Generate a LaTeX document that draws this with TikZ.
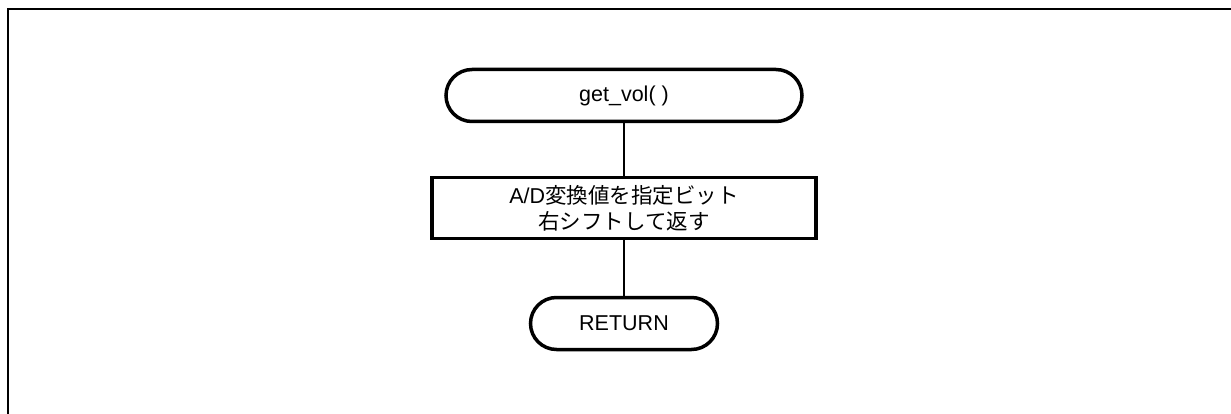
\documentclass[tikz,border=0pt]{standalone}
\usepackage{fontspec}
\setmainfont{Liberation Sans}
\newfontfamily\cjk{Noto Sans CJK JP}
\begin{document}
\begin{tikzpicture}[x=1pt,y=-1pt,
  term/.style={draw,line width=3.5pt,rounded corners=26pt,minimum height=52pt,inner sep=0pt,font=\fontsize{21.5}{26}\selectfont},
  procbox/.style={draw,line width=3.8pt,minimum width=384pt,minimum height=61pt,inner sep=0pt,align=center,font=\fontsize{21.5}{26}\selectfont},
  conn/.style={line width=2pt}]
\useasboundingbox (0,0) rectangle (1231,414);
\coordinate (fa) at (8,414);
\coordinate (fb) at (8,9);
\coordinate (fc) at (1231,9);
\draw[line width=2.2pt] (fa) -- (fb) -- (fc);
\node[term,minimum width=356pt] (start) at (624,95.5) {get\_vol( )};
\node[procbox] (proc) at (624,208) {A/D{\cjk 変換値を指定ビット}\\{\cjk 右シフトして返す}};
\node[term,minimum width=187pt] (ret) at (624,323.5) {RETURN};
\draw[conn] (start.south) -- (proc.north);
\draw[conn] (proc.south) -- (ret.north);
\end{tikzpicture}
\end{document}
